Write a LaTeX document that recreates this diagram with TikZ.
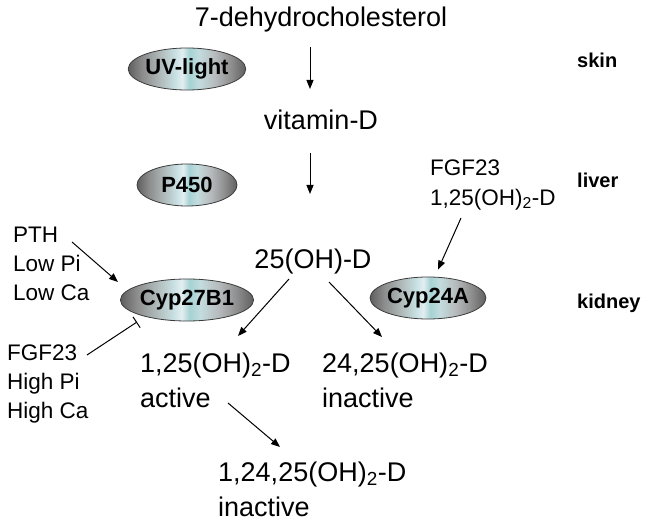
\documentclass[tikz,border=0pt]{standalone}
\usepackage{fontspec}
\setmainfont{Liberation Sans}
\usepackage{tikz}
\usetikzlibrary{calc,shapes.geometric,arrows.meta}
\definecolor{rim_gray}{RGB}{95,95,95}
\definecolor{dark_gray}{RGB}{140,140,140}
\definecolor{steel}{RGB}{178,188,188}
\definecolor{pale_cyan}{RGB}{200,225,228}
\definecolor{glint}{RGB}{228,238,240}
\definecolor{sea_cyan}{RGB}{165,210,212}
\definecolor{mist}{RGB}{195,220,222}
\definecolor{light_gray}{RGB}{182,186,188}
\definecolor{edge_gray}{RGB}{60,60,60}
\pgfdeclarehorizontalshading{metal}{100bp}{color(0bp)=(rim_gray); color(25bp)=(rim_gray);
  color(31bp)=(dark_gray); color(39bp)=(steel); color(45bp)=(pale_cyan);
  color(48bp)=(glint); color(51bp)=(sea_cyan); color(55bp)=(mist);
  color(62bp)=(light_gray); color(69bp)=(dark_gray); color(75bp)=(rim_gray);
  color(100bp)=(rim_gray)}

\begin{document}
\begin{tikzpicture}[x=1pt,y=-1pt,>={Triangle[length=9pt,width=7pt]},
  comp/.style={inner sep=0pt,align=left,font=\fontsize{27}{35}\selectfont},
  reg/.style={inner sep=0pt,align=left,font=\fontsize{22.5}{29}\selectfont},
  organ/.style={inner sep=0pt,font=\fontsize{20}{24}\selectfont\bfseries},
  enzyme/.style={ellipse,draw=edge_gray,line width=0.8pt,shade,shading=metal,
    minimum width=100,minimum height=42,inner sep=0pt,
    font=\fontsize{22}{26}\selectfont\bfseries},
  arr/.style={->,line width=1pt}]

    % Frame
    \useasboundingbox (0,0) rectangle (651,524);

    % Compounds (base = last line)
    \node[comp,anchor=base] (dhc) at (321,27) {7-dehydrocholesterol};
    \node[comp,anchor=base] (vitD) at (321,130) {vitamin-D};
    \node[comp,anchor=base] (ohD) at (313,268) {25(OH)-D};
    \node[comp,anchor=base west] (act) at (140,407) {1,25(OH)\textsubscript{2}-D\\active};
    \node[comp,anchor=base west] (inact) at (322,407) {24,25(OH)\textsubscript{2}-D\\inactive};
    \node[comp,anchor=base west] (tri) at (218,516) {1,24,25(OH)\textsubscript{2}-D\\inactive};

    % Enzymes
    \node[enzyme] (uv) at (187,69) {UV-light};
    \node[enzyme] (p450) at (187,185) {P450};
    \node[enzyme] (cyp27) at (187,300) {Cyp27B1};
    \node[enzyme] (cyp24) at (428,298) {Cyp24A};

    % Organs
    \node[organ,anchor=base west] (skin) at (577,68) {skin};
    \node[organ,anchor=base west] (liver) at (577,187) {liver};
    \node[organ,anchor=base west] (kidney) at (577,308) {kidney};

    % Regulators
    \node[reg,anchor=base west] (stim) at (13,300) {PTH\\Low Pi\\Low Ca};
    \node[reg,anchor=base west] (inhib) at (7,418) {FGF23\\High Pi\\High Ca};
    \node[reg,anchor=base west] (reg24) at (430,205) {FGF23\\1,25(OH)\textsubscript{2}-D};

    % Pathway
    \draw[arr] ($(dhc.base)+(-11,20)$) -- ($(vitD.base)+(-11,-41)$);
    \draw[arr] ($(vitD.base)+(-11,23)$) -- ($(ohD.base)+(-3,-74)$);
    \draw[arr] ($(ohD.base)+(-24,11)$) -- ($(act.base west)+(98,-71)$);
    \draw[arr] ($(ohD.base)+(16,14)$) -- ($(inact.base west)+(60,-70)$);
    \draw[arr] ($(act.base west)+(88,-4)$) -- ($(tri.base west)+(62,-69)$);

    % Regulation
    \draw[arr] ($(reg24.base west)+(31,13)$) -- ($(cyp24.north)+(10,-7)$);
    \draw[arr] ($(stim.base west)+(59,-58)$) -- ($(cyp27)+(-69,-18)$);
    \draw[-{Bar[width=13pt]},line width=1pt] ($(inhib.base west)+(80,-63)$) -- ($(cyp27)+(-50,22)$);
\end{tikzpicture}
\end{document}
